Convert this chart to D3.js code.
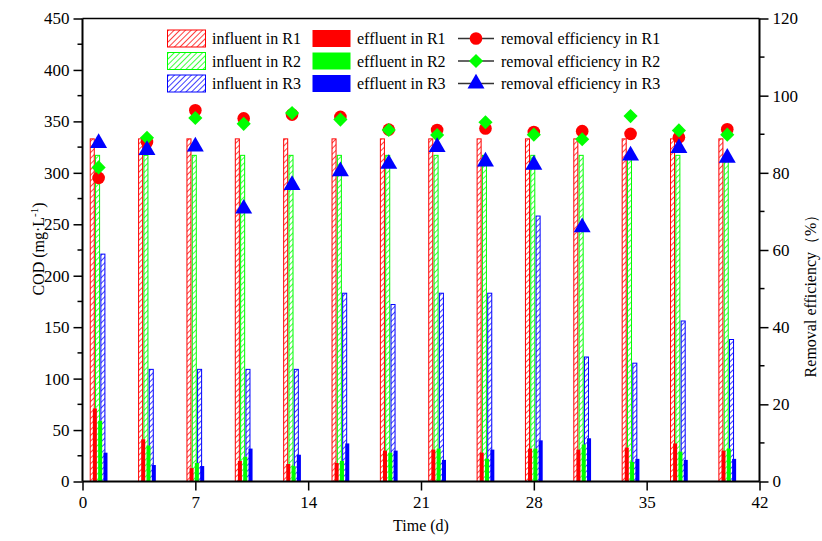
<!DOCTYPE html>
<html>
<head>
<meta charset="utf-8">
<script src="https://cdn.jsdelivr.net/npm/d3@7"></script>
<style>
  body { margin: 0; background: #fff; }
  text { font-family: "Liberation Serif", "Times New Roman", serif; fill: #000; }
</style>
</head>
<body>
<div id="chart"></div>
<script>
// sampling days
var days = [1, 4, 7, 10, 13, 16, 19, 22, 25, 28, 31, 34, 37, 40];

// COD (mg/L)
var influentR1 = [333, 333, 333, 333, 333, 333, 333, 333, 333, 333, 333, 333, 333, 333];
var influentR2 = [317, 317, 317, 317, 317, 317, 317, 317, 317, 317, 317, 317, 317, 317];
var influentR3 = [221, 109, 109, 109, 109, 183, 172, 183, 183, 258, 121, 115, 156, 138];
var effluentR1 = [71, 41, 13, 20, 17, 18, 30, 31, 28, 32, 31, 33, 37, 30];
var effluentR2 = [59, 35, 18, 24, 15, 20, 28, 32, 22, 32, 36, 19, 29, 32];
var effluentR3 = [28, 16, 15, 32, 26, 37, 30, 21, 31, 40, 42, 22, 21, 22];

// removal efficiency (%)
var removalR1 = [78.7, 88.0, 96.2, 94.1, 95.1, 94.5, 91.2, 91.1, 91.5, 90.6, 90.8, 90.1, 89.2, 91.3];
var removalR2 = [81.4, 89.1, 94.2, 92.7, 95.5, 93.8, 91.1, 89.8, 93.1, 89.9, 88.7, 94.7, 91.0, 89.9];
var removalR3 = [87.7, 85.9, 86.8, 70.7, 76.8, 80.4, 82.3, 86.7, 82.9, 82.1, 65.9, 84.5, 86.4, 83.9];

var xTicks = [0, 7, 14, 21, 28, 35, 42];
var series = ["R1", "R2", "R3"];
var colors = ["#ff0000", "#00ff00", "#0000ff"];
var serif = "Liberation Serif";

// margins
var W = 822, H = 541;
var margin = {top: 18.5, right: 62.5, bottom: 59.5, left: 82.5},
    width = W - margin.left - margin.right,
    height = H - margin.top - margin.bottom;

var svg = d3.select("#chart").append("svg")
    .attr("width", W)
    .attr("height", H)
    .attr("font-family", serif);

// hatch patterns for influent bars
var defs = svg.append("defs");
colors.forEach(function (c, i) {
    var p = defs.append("pattern")
        .attr("id", "hatch" + i)
        .attr("patternUnits", "userSpaceOnUse")
        .attr("width", 4)
        .attr("height", 4)
        .attr("patternTransform", "rotate(45)");
    p.append("rect").attr("width", 4).attr("height", 4).attr("fill", "#fff");
    p.append("line")
        .attr("x1", 0).attr("y1", 0).attr("x2", 0).attr("y2", 4)
        .attr("stroke", c).attr("stroke-width", 1.5);
});

var g = svg.append("g")
    .attr("transform", "translate(" + margin.left + "," + margin.top + ")");

var x = d3.scaleLinear().domain([0, 42]).range([0, width]);
var y = d3.scaleLinear().domain([0, 450]).range([height, 0]);
var y2 = d3.scaleLinear().domain([0, 120]).range([height, 0]);

var influent = [influentR1, influentR2, influentR3];
var effluent = [effluentR1, effluentR2, effluentR3];
var removal = [removalR1, removalR2, removalR3];

// bar geometry (in days)
var barW = 0.25;
var inflOffset = [-0.52, -0.19, 0.14];
var effOffset = [-0.36, -0.03, 0.30];

// influent bars (hatched)
series.forEach(function (s, k) {
    g.append("g").selectAll("rect")
        .data(days)
        .enter().append("rect")
        .attr("x", function (d) { return x(d + inflOffset[k]); })
        .attr("width", x(barW) - x(0))
        .attr("y", function (d, i) { return y(influent[k][i]); })
        .attr("height", function (d, i) { return y(0) - y(influent[k][i]); })
        .attr("fill", "url(#hatch" + k + ")")
        .attr("stroke", colors[k])
        .attr("stroke-width", 1);
});

// effluent bars (solid)
series.forEach(function (s, k) {
    g.append("g").selectAll("rect")
        .data(days)
        .enter().append("rect")
        .attr("x", function (d) { return x(d + effOffset[k]); })
        .attr("width", x(barW) - x(0))
        .attr("y", function (d, i) { return y(effluent[k][i]); })
        .attr("height", function (d, i) { return y(0) - y(effluent[k][i]); })
        .attr("fill", colors[k]);
});

// removal efficiency markers
var symbols = [
    d3.symbol().type(d3.symbolCircle).size(125),
    d3.symbol().type(d3.symbolSquare).size(100),
    d3.symbol().type(d3.symbolTriangle).size(125)
];
function markerTransform(k, px, py) {
    return "translate(" + px + "," + py + ")" + (k == 1 ? " rotate(45)" : "");
}
series.forEach(function (s, k) {
    g.append("g").selectAll("path")
        .data(days)
        .enter().append("path")
        .attr("d", symbols[k])
        .attr("transform", function (d, i) {
            return markerTransform(k, x(d), y2(removal[k][i]));
        })
        .attr("fill", colors[k]);
});

// axes
var axisLeft = g.append("g")
    .call(d3.axisLeft(y).tickValues(d3.range(0, 451, 50)).tickSize(9).tickPadding(4));
axisLeft.append("g").selectAll("line")
    .data(d3.range(25, 450, 50))
    .enter().append("line")
    .attr("x1", -5).attr("x2", 0)
    .attr("y1", function (d) { return y(d); })
    .attr("y2", function (d) { return y(d); })
    .attr("stroke", "#000").attr("stroke-width", 1.5);

var axisRight = g.append("g")
    .attr("transform", "translate(" + width + ",0)")
    .call(d3.axisRight(y2).tickValues(d3.range(0, 121, 20)).tickSize(9).tickPadding(4));
axisRight.append("g").selectAll("line")
    .data(d3.range(10, 120, 20))
    .enter().append("line")
    .attr("x1", 0).attr("x2", 5)
    .attr("y1", function (d) { return y2(d); })
    .attr("y2", function (d) { return y2(d); })
    .attr("stroke", "#000").attr("stroke-width", 1.5);

var axisBottom = g.append("g")
    .attr("transform", "translate(0," + height + ")")
    .call(d3.axisBottom(x).tickValues(xTicks).tickSize(9).tickPadding(5));

[axisLeft, axisRight, axisBottom].forEach(function (a) {
    a.attr("font-family", serif).attr("font-size", 17);
    a.select(".domain").remove();
    a.selectAll(".tick line").attr("stroke-width", 1.5);
    a.selectAll(".tick text").attr("font-family", serif);
});

// frame lines
g.append("line").attr("x1", 0).attr("x2", width).attr("y1", 0).attr("y2", 0)
    .attr("stroke", "#000").attr("stroke-width", 1.5);
g.append("line").attr("x1", 0).attr("x2", 0).attr("y1", 0).attr("y2", height)
    .attr("stroke", "#000").attr("stroke-width", 2);
g.append("line").attr("x1", width).attr("x2", width).attr("y1", 0).attr("y2", height)
    .attr("stroke", "#000").attr("stroke-width", 2);
g.append("line").attr("x1", 0).attr("x2", width).attr("y1", height).attr("y2", height)
    .attr("stroke", "#000").attr("stroke-width", 2);

// axis titles
svg.append("text")
    .attr("x", margin.left + width / 2)
    .attr("y", 531)
    .attr("text-anchor", "middle")
    .style("font-size", "16px")
    .text("Time (d)");

var codTitle = svg.append("text")
    .attr("transform", "translate(44,249) rotate(-90)")
    .attr("text-anchor", "middle")
    .style("font-size", "16px");
codTitle.append("tspan").text("COD (mg·L");
codTitle.append("tspan").attr("dy", -6).style("font-size", "11px").text("-1");
codTitle.append("tspan").attr("dy", 6).text(")");

svg.append("text")
    .attr("transform", "translate(816,292) rotate(-90)")
    .attr("text-anchor", "middle")
    .style("font-size", "16px")
    .text("Removal efficiency（%）");

// legend
var legend = svg.append("g");
var rowY = [38.5, 61, 83.5];
series.forEach(function (s, k) {
    var ry = rowY[k];
    legend.append("rect")
        .attr("x", 167.5).attr("y", ry - 8.5)
        .attr("width", 38).attr("height", 17)
        .attr("fill", "url(#hatch" + k + ")")
        .attr("stroke", colors[k]).attr("stroke-width", 1);
    legend.append("text")
        .attr("x", 212).attr("y", ry + 5.5)
        .style("font-size", "16px")
        .text("influent in " + s);

    legend.append("rect")
        .attr("x", 312.5).attr("y", ry - 8.5)
        .attr("width", 38).attr("height", 17)
        .attr("fill", colors[k]);
    legend.append("text")
        .attr("x", 357).attr("y", ry + 5.5)
        .style("font-size", "16px")
        .text("effluent in " + s);

    legend.append("line")
        .attr("x1", 458).attr("x2", 494)
        .attr("y1", ry).attr("y2", ry)
        .attr("stroke", "#333").attr("stroke-width", 1.5);
    legend.append("path")
        .attr("d", symbols[k])
        .attr("transform", markerTransform(k, 476, ry))
        .attr("fill", colors[k]);
    legend.append("text")
        .attr("x", 501).attr("y", ry + 5.5)
        .style("font-size", "16px")
        .text("removal efficiency in " + s);
});
</script>
</body>
</html>
